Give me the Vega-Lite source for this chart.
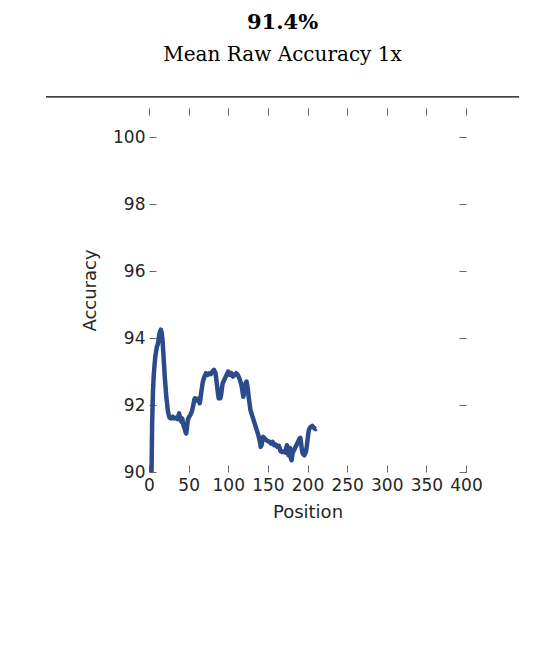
{
  "$schema": "https://vega.github.io/schema/vega-lite/v6.json",
  "autosize": {"type": "pad"},
  "padding": {"left": 45, "top": 12, "right": 0, "bottom": 0},
  "background": "white",
  "width": 317,
  "height": 364,
  "title": {
    "text": "91.4%",
    "subtitle": "Mean Raw Accuracy 1x",
    "font": "DejaVu Serif",
    "fontSize": 21,
    "fontWeight": "bold",
    "color": "#000000",
    "subtitleFont": "DejaVu Serif",
    "subtitleFontSize": 20,
    "subtitleColor": "#000000",
    "subtitlePadding": 12,
    "offset": 31,
    "anchor": "middle",
    "frame": "bounds"
  },
  "datasets": {
    "acc": [
      {"pos": 3, "acc": 89.6}, {"pos": 4, "acc": 91.5}, {"pos": 5, "acc": 92.4}, {"pos": 6, "acc": 92.9},
      {"pos": 7, "acc": 93.2}, {"pos": 8, "acc": 93.45}, {"pos": 9, "acc": 93.6}, {"pos": 10, "acc": 93.75},
      {"pos": 11, "acc": 93.8}, {"pos": 12, "acc": 93.95}, {"pos": 13, "acc": 94.1}, {"pos": 14, "acc": 94.2},
      {"pos": 15, "acc": 94.25}, {"pos": 16, "acc": 94.15}, {"pos": 17, "acc": 93.95}, {"pos": 18, "acc": 93.6},
      {"pos": 19, "acc": 93.2}, {"pos": 20, "acc": 92.8}, {"pos": 21, "acc": 92.5}, {"pos": 22, "acc": 92.2},
      {"pos": 23, "acc": 92.0}, {"pos": 24, "acc": 91.8}, {"pos": 25, "acc": 91.7}, {"pos": 26, "acc": 91.62},
      {"pos": 28, "acc": 91.6}, {"pos": 30, "acc": 91.65}, {"pos": 32, "acc": 91.6}, {"pos": 34, "acc": 91.62},
      {"pos": 36, "acc": 91.58}, {"pos": 38, "acc": 91.75}, {"pos": 40, "acc": 91.55}, {"pos": 41, "acc": 91.5},
      {"pos": 42, "acc": 91.6}, {"pos": 43, "acc": 91.45}, {"pos": 44, "acc": 91.35}, {"pos": 45, "acc": 91.3},
      {"pos": 46, "acc": 91.2}, {"pos": 47, "acc": 91.15}, {"pos": 48, "acc": 91.35}, {"pos": 49, "acc": 91.55},
      {"pos": 50, "acc": 91.62}, {"pos": 52, "acc": 91.7}, {"pos": 54, "acc": 91.8}, {"pos": 56, "acc": 92.0},
      {"pos": 57, "acc": 92.15}, {"pos": 58, "acc": 92.2}, {"pos": 60, "acc": 92.18}, {"pos": 62, "acc": 92.12},
      {"pos": 63, "acc": 92.2}, {"pos": 64, "acc": 92.05}, {"pos": 65, "acc": 92.2}, {"pos": 66, "acc": 92.4},
      {"pos": 67, "acc": 92.55}, {"pos": 68, "acc": 92.7}, {"pos": 70, "acc": 92.85}, {"pos": 72, "acc": 92.95},
      {"pos": 74, "acc": 92.9}, {"pos": 76, "acc": 92.95}, {"pos": 78, "acc": 92.92}, {"pos": 80, "acc": 93.0},
      {"pos": 82, "acc": 93.05}, {"pos": 84, "acc": 92.95}, {"pos": 85, "acc": 92.75}, {"pos": 86, "acc": 92.55},
      {"pos": 87, "acc": 92.35}, {"pos": 88, "acc": 92.2}, {"pos": 89, "acc": 92.25}, {"pos": 90, "acc": 92.2},
      {"pos": 91, "acc": 92.3}, {"pos": 92, "acc": 92.5}, {"pos": 93, "acc": 92.65}, {"pos": 95, "acc": 92.75},
      {"pos": 97, "acc": 92.85}, {"pos": 99, "acc": 92.95}, {"pos": 100, "acc": 93.0}, {"pos": 102, "acc": 92.9},
      {"pos": 104, "acc": 92.95}, {"pos": 106, "acc": 92.85}, {"pos": 108, "acc": 92.9}, {"pos": 110, "acc": 92.95},
      {"pos": 112, "acc": 92.9}, {"pos": 114, "acc": 92.8}, {"pos": 116, "acc": 92.65}, {"pos": 117, "acc": 92.55},
      {"pos": 118, "acc": 92.4}, {"pos": 119, "acc": 92.25}, {"pos": 120, "acc": 92.35}, {"pos": 121, "acc": 92.55},
      {"pos": 122, "acc": 92.65}, {"pos": 123, "acc": 92.7}, {"pos": 124, "acc": 92.6}, {"pos": 125, "acc": 92.4},
      {"pos": 126, "acc": 92.2}, {"pos": 128, "acc": 91.85}, {"pos": 130, "acc": 91.7}, {"pos": 132, "acc": 91.55},
      {"pos": 134, "acc": 91.4}, {"pos": 136, "acc": 91.25}, {"pos": 138, "acc": 91.1}, {"pos": 140, "acc": 90.9},
      {"pos": 141, "acc": 90.75}, {"pos": 142, "acc": 90.8}, {"pos": 143, "acc": 90.95}, {"pos": 144, "acc": 91.05},
      {"pos": 146, "acc": 91.0}, {"pos": 148, "acc": 90.95}, {"pos": 150, "acc": 90.92}, {"pos": 152, "acc": 90.9},
      {"pos": 154, "acc": 90.85}, {"pos": 156, "acc": 90.9}, {"pos": 158, "acc": 90.8}, {"pos": 160, "acc": 90.82},
      {"pos": 162, "acc": 90.75}, {"pos": 164, "acc": 90.78}, {"pos": 166, "acc": 90.62}, {"pos": 168, "acc": 90.6},
      {"pos": 170, "acc": 90.62}, {"pos": 172, "acc": 90.58}, {"pos": 174, "acc": 90.8}, {"pos": 175, "acc": 90.7},
      {"pos": 176, "acc": 90.5}, {"pos": 177, "acc": 90.55}, {"pos": 178, "acc": 90.72}, {"pos": 179, "acc": 90.4},
      {"pos": 180, "acc": 90.35}, {"pos": 181, "acc": 90.55}, {"pos": 182, "acc": 90.6}, {"pos": 184, "acc": 90.7},
      {"pos": 186, "acc": 90.8}, {"pos": 188, "acc": 90.9}, {"pos": 190, "acc": 91.0}, {"pos": 191, "acc": 91.02},
      {"pos": 192, "acc": 90.85}, {"pos": 193, "acc": 90.65}, {"pos": 194, "acc": 90.55}, {"pos": 196, "acc": 90.5},
      {"pos": 198, "acc": 90.6}, {"pos": 199, "acc": 90.75}, {"pos": 200, "acc": 90.95}, {"pos": 201, "acc": 91.15},
      {"pos": 202, "acc": 91.28}, {"pos": 204, "acc": 91.35}, {"pos": 206, "acc": 91.38}, {"pos": 208, "acc": 91.32},
      {"pos": 210, "acc": 91.28}, {"pos": 211, "acc": 91.3}
    ]
  },
  "config": {
    "view": {"stroke": null},
    "axis": {
      "grid": false,
      "domain": false,
      "labelFont": "DejaVu Sans",
      "titleFont": "DejaVu Sans",
      "labelFontSize": 17,
      "titleFontSize": 18,
      "labelColor": "#262626",
      "titleColor": "#262626",
      "titleFontWeight": "normal",
      "tickColor": "#666666",
      "tickSize": -7,
      "labelFlush": false,
      "labelOverlap": false
    }
  },
  "resolve": {"axis": {"x": "independent", "y": "independent"}},
  "layer": [
    {
      "data": {"name": "acc"},
      "mark": {"type": "line", "color": "#2c4b8a", "strokeWidth": 4.5, "clip": true, "strokeJoin": "round"},
      "encoding": {
        "x": {
          "field": "pos",
          "type": "quantitative",
          "scale": {"domain": [0, 400], "nice": false},
          "axis": {"orient": "bottom", "values": [0, 50, 100, 150, 200, 250, 300, 350, 400], "title": "Position", "labelPadding": 12, "titlePadding": 10}
        },
        "y": {
          "field": "acc",
          "type": "quantitative",
          "scale": {"domain": [90, 100.87], "nice": false, "zero": false},
          "axis": {"orient": "left", "values": [90, 92, 94, 96, 98, 100], "title": "Accuracy", "labelPadding": 11, "titlePadding": 13}
        }
      }
    },
    {
      "data": {"name": "acc"},
      "mark": {"type": "line", "opacity": 0, "clip": true},
      "encoding": {
        "x": {
          "field": "pos",
          "type": "quantitative",
          "scale": {"domain": [0, 400], "nice": false},
          "axis": {"orient": "top", "values": [0, 50, 100, 150, 200, 250, 300, 350, 400], "labels": false, "title": null}
        },
        "y": {
          "field": "acc",
          "type": "quantitative",
          "scale": {"domain": [90, 100.87], "nice": false, "zero": false},
          "axis": {"orient": "right", "values": [90, 92, 94, 96, 98, 100], "labels": false, "title": null}
        }
      }
    },
    {
      "data": {"values": [{}]},
      "mark": {"type": "rule", "color": "#000000", "strokeWidth": 1.3, "clip": false},
      "encoding": {
        "x": {"datum": -130, "type": "quantitative", "scale": {"domain": [0, 400], "nice": false}, "axis": null},
        "x2": {"datum": 467},
        "y": {"datum": 101.2, "type": "quantitative", "scale": {"domain": [90, 100.87], "nice": false, "zero": false}, "axis": null}
      }
    }
  ]
}
